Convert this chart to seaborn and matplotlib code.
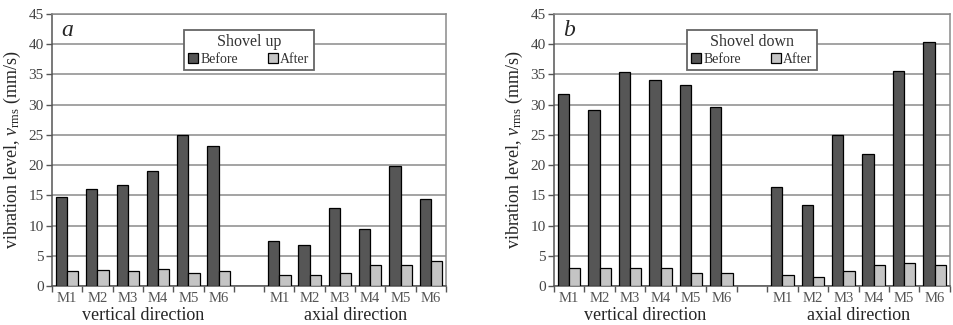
import matplotlib
matplotlib.use("Agg")
import matplotlib.pyplot as plt
import matplotlib.transforms as mtransforms
import seaborn as sns
import pandas as pd
import numpy as np

# ---- data ----
motors = ["M1", "M2", "M3", "M4", "M5", "M6"]
up_vert_before = [14.8, 16.1, 16.7, 19.1, 24.9, 23.1]
up_vert_after = [2.5, 2.7, 2.5, 2.8, 2.1, 2.4]
up_axial_before = [7.4, 6.8, 12.9, 9.4, 19.9, 14.4]
up_axial_after = [1.8, 1.9, 2.1, 3.5, 3.4, 4.2]

down_vert_before = [31.8, 29.1, 35.4, 34.1, 33.2, 29.6]
down_vert_after = [2.9, 2.9, 2.9, 3.0, 2.2, 2.2]
down_axial_before = [16.4, 13.4, 24.9, 21.8, 35.6, 40.3]
down_axial_after = [1.8, 1.5, 2.4, 3.5, 3.8, 3.5]

groups = ["vertical direction", "axial direction"]
series = ["Before", "After"]
panel_titles = ["Shovel up", "Shovel down"]
panel_letters = ["a", "b"]

sns.set_theme(style="white")
plt.rcParams["font.family"] = ["Liberation Serif", "DejaVu Serif"]
plt.rcParams["mathtext.fontset"] = "custom"
plt.rcParams["mathtext.rm"] = "Liberation Serif"
plt.rcParams["mathtext.it"] = "Liberation Serif:italic"


def build_frame(vb, va, ab, aa):
    rows = []
    for m, b, a in zip(motors, vb, va):
        rows.append(("v" + m, "Before", b))
        rows.append(("v" + m, "After", a))
    for m, b, a in zip(motors, ab, aa):
        rows.append(("a" + m, "Before", b))
        rows.append(("a" + m, "After", a))
    return pd.DataFrame(rows, columns=["slot", "series", "value"])


order = ["v" + m for m in motors] + ["gap"] + ["a" + m for m in motors]

frames = [
    build_frame(up_vert_before, up_vert_after, up_axial_before, up_axial_after),
    build_frame(down_vert_before, down_vert_after, down_axial_before, down_axial_after),
]

fig = plt.figure(figsize=(9.54, 3.25), dpi=100)
positions = [[0.0545, 0.12, 0.413, 0.837], [0.5807, 0.12, 0.415, 0.837]]
palette = {"Before": "#565656", "After": "#c4c4c4"}

for i, df in enumerate(frames):
    ax = fig.add_axes(positions[i])
    sns.barplot(data=df, x="slot", y="value", hue="series", order=order,
                hue_order=series, palette=palette, width=0.74,
                edgecolor="black", linewidth=0.9, saturation=1, ax=ax, zorder=3)
    ax.set_ylim(0, 45)
    ax.set_xlim(-0.5, 12.5)
    ax.set_yticks(np.arange(0, 46, 5))
    ax.yaxis.grid(True, color="#8a8a8a", linewidth=1.1, zorder=0)
    ax.set_axisbelow(True)
    for s in ["top", "right"]:
        ax.spines[s].set_color("#8a8a8a")
        ax.spines[s].set_linewidth(1.1)
    ax.spines["left"].set_color("#555555")
    ax.spines["bottom"].set_color("#555555")
    ax.spines["left"].set_linewidth(1.1)
    ax.spines["bottom"].set_linewidth(1.1)
    ax.tick_params(axis="y", left=True, length=4, width=1, color="#555555",
                   labelsize=11, labelcolor="#444444", pad=2)
    ticks = list(range(13))
    ax.set_xticks(ticks)
    ax.set_xticklabels(motors + [""] + motors, fontsize=10.5, color="#555555")
    ax.tick_params(axis="x", which="major", bottom=False, length=0, pad=4)
    minor = [k - 0.5 for k in range(7)] + [k + 0.5 for k in range(6, 13)]
    ax.set_xticks(minor, minor=True)
    ax.tick_params(axis="x", which="minor", bottom=True, length=4, width=1, color="#555555")
    ax.set_xlabel("")
    ax.set_ylabel(r"vibration level, $v_{\mathrm{rms}}$ (mm/s)", fontsize=13, labelpad=4)

    trans = mtransforms.blended_transform_factory(ax.transData, ax.transAxes)
    ax.text(2.5, -0.108, groups[0], transform=trans, ha="center", va="center", fontsize=13)
    ax.text(9.5, -0.108, groups[1], transform=trans, ha="center", va="center", fontsize=13)

    ax.text(0.038, 0.94, panel_letters[i], transform=ax.transAxes, ha="center",
            va="center", fontsize=17, style="italic")

    handles, labels = ax.get_legend_handles_labels()
    leg = ax.legend(handles, labels, title=panel_titles[i], loc="upper center",
                    bbox_to_anchor=(0.5, 0.967), ncol=2, fontsize=10,
                    title_fontsize=11.5, frameon=True, fancybox=False,
                    handlelength=0.7, handleheight=0.7, handletextpad=0.15,
                    columnspacing=2.2, borderpad=0.3, labelspacing=0.2)
    leg.get_frame().set_edgecolor("#666666")
    leg.get_frame().set_linewidth(1.3)
    leg.get_frame().set_alpha(1)
    leg.get_title().set_color("#333333")
    for t in leg.get_texts():
        t.set_color("#333333")
    leg.set_zorder(5)

fig.savefig("out.png", dpi=100)
